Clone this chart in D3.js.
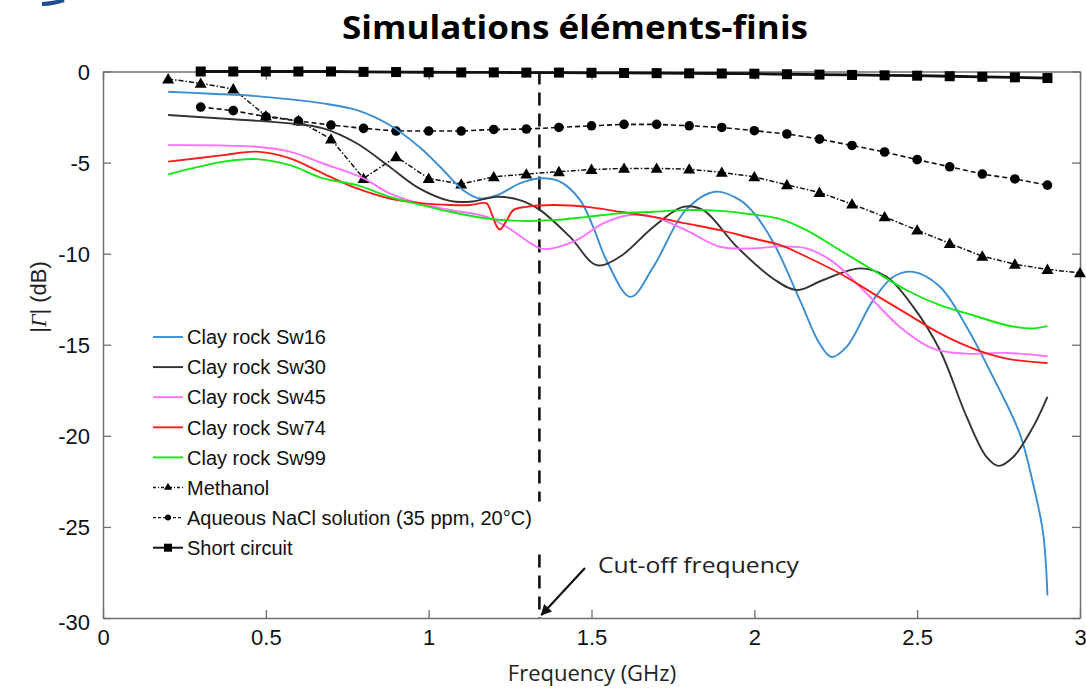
<!DOCTYPE html>
<html>
<head>
<meta charset="utf-8">
<script src="https://cdn.jsdelivr.net/npm/d3@7"></script>
<style>
  html, body { margin: 0; padding: 0; background: #fff; }
  svg { display: block; }
</style>
</head>
<body>
<svg id="chart" width="1086" height="690"></svg>
<script>
// ---- Data: |Γ| (dB) versus frequency (GHz) ----
const xTicks = [0, 0.5, 1, 1.5, 2, 2.5, 3];
const xTickLabels = ["0", "0.5", "1", "1.5", "2", "2.5", "3"];
const yTicks = [0, -5, -10, -15, -20, -25, -30];
const yTickLabels = ["0", "-5", "-10", "-15", "-20", "-25", "-30"];

const sw16Freq = [0.2, 0.33, 0.47, 0.675, 0.78, 0.88, 0.975, 1.035, 1.105, 1.157, 1.21, 1.28, 1.336, 1.403, 1.465, 1.505, 1.546, 1.62, 1.69, 1.79, 1.88, 1.956, 2.0, 2.06, 2.14, 2.2, 2.237, 2.283, 2.365, 2.427, 2.488, 2.57, 2.652, 2.733, 2.815, 2.856, 2.887, 2.9];
const sw16Db = [-1.11, -1.22, -1.35, -1.75, -2.12, -2.94, -4.2, -5.23, -6.5, -6.97, -6.79, -6.14, -5.87, -6.05, -7.06, -8.53, -10.36, -12.37, -10.72, -7.6, -6.6, -7.06, -7.8, -9.44, -12.55, -14.93, -15.67, -15.12, -12.55, -11.27, -11.0, -11.82, -14.02, -16.77, -19.88, -22.63, -25.37, -28.76];

const sw30Freq = [0.2, 0.4, 0.574, 0.676, 0.78, 0.88, 0.963, 1.065, 1.127, 1.21, 1.28, 1.342, 1.434, 1.516, 1.587, 1.69, 1.782, 1.843, 1.946, 2.06, 2.13, 2.21, 2.324, 2.406, 2.488, 2.57, 2.652, 2.713, 2.749, 2.795, 2.856, 2.9];
const sw30Db = [-2.39, -2.62, -2.85, -3.12, -3.95, -5.23, -6.33, -7.1, -7.15, -6.88, -7.06, -7.61, -9.08, -10.63, -10.17, -8.53, -7.43, -7.61, -9.62, -11.4, -12.0, -11.46, -10.81, -11.27, -12.92, -15.3, -18.96, -21.16, -21.65, -21.16, -19.51, -17.86];

const sw45Freq = [0.2, 0.47, 0.574, 0.676, 0.8, 0.88, 0.983, 1.065, 1.178, 1.24, 1.342, 1.38, 1.454, 1.536, 1.618, 1.69, 1.79, 1.894, 1.997, 2.08, 2.16, 2.242, 2.345, 2.447, 2.549, 2.652, 2.775, 2.9];
const sw45Db = [-4.04, -4.13, -4.4, -5.05, -5.87, -6.69, -7.3, -7.6, -7.98, -8.53, -9.71, -9.71, -9.26, -8.34, -7.88, -7.98, -8.71, -9.62, -9.71, -9.6, -9.71, -10.45, -12.19, -14.02, -15.21, -15.49, -15.45, -15.63];

const sw74Freq = [0.2, 0.37, 0.472, 0.574, 0.676, 0.78, 0.88, 0.983, 1.065, 1.127, 1.178, 1.193, 1.21, 1.219, 1.24, 1.26, 1.3, 1.383, 1.485, 1.587, 1.69, 1.79, 1.894, 1.997, 2.08, 2.16, 2.263, 2.365, 2.468, 2.57, 2.672, 2.775, 2.9];
const sw74Db = [-4.95, -4.59, -4.4, -4.77, -5.6, -6.42, -6.97, -7.24, -7.33, -7.33, -7.24, -7.79, -8.53, -8.67, -8.16, -7.61, -7.43, -7.33, -7.43, -7.7, -7.98, -8.34, -8.71, -9.17, -9.53, -10.17, -11.09, -12.19, -13.29, -14.38, -15.21, -15.76, -16.0];

const sw99Freq = [0.2, 0.37, 0.472, 0.574, 0.676, 0.78, 0.88, 0.983, 1.065, 1.178, 1.28, 1.383, 1.485, 1.587, 1.69, 1.79, 1.894, 1.997, 2.08, 2.16, 2.263, 2.365, 2.468, 2.57, 2.672, 2.775, 2.85, 2.9];
const sw99Db = [-5.65, -4.95, -4.81, -5.14, -5.87, -6.24, -6.88, -7.35, -7.7, -8.07, -8.2, -8.16, -7.98, -7.79, -7.7, -7.61, -7.65, -7.85, -8.1, -8.71, -9.81, -10.91, -12.01, -12.83, -13.38, -13.93, -14.11, -13.98];

const methanolFreq = [0.2, 0.3, 0.4, 0.5, 0.6, 0.7, 0.8, 0.9, 1.0, 1.1, 1.2, 1.3, 1.4, 1.5, 1.6, 1.7, 1.8, 1.9, 2.0, 2.1, 2.2, 2.3, 2.4, 2.5, 2.6, 2.7, 2.8, 2.9, 3.0];
const methanolDb = [-0.41, -0.65, -0.96, -2.44, -2.7, -3.71, -5.87, -4.68, -5.87, -6.18, -5.78, -5.63, -5.5, -5.38, -5.32, -5.32, -5.36, -5.54, -5.78, -6.22, -6.64, -7.28, -7.98, -8.71, -9.44, -10.14, -10.58, -10.87, -11.05];

const naclFreq = [0.3, 0.4, 0.5, 0.6, 0.7, 0.8, 0.9, 1.0, 1.1, 1.2, 1.3, 1.4, 1.5, 1.6, 1.7, 1.8, 1.9, 2.0, 2.1, 2.2, 2.3, 2.4, 2.5, 2.6, 2.7, 2.8, 2.9];
const naclDb = [-1.95, -2.15, -2.48, -2.72, -2.94, -3.12, -3.27, -3.27, -3.27, -3.18, -3.16, -3.07, -2.98, -2.9, -2.9, -2.98, -3.07, -3.25, -3.43, -3.71, -4.06, -4.42, -4.84, -5.23, -5.63, -5.9, -6.24];

const shortFreq = naclFreq;
const shortDb = [0, 0, 0, 0, 0, -0.02, -0.03, -0.04, -0.05, -0.05, -0.06, -0.06, -0.07, -0.08, -0.09, -0.1, -0.11, -0.12, -0.15, -0.17, -0.19, -0.21, -0.23, -0.26, -0.29, -0.32, -0.36];

const cutoffFreq = 1.34;

const legendLabels = ["Clay rock Sw16", "Clay rock Sw30", "Clay rock Sw45", "Clay rock Sw74", "Clay rock Sw99",
  "Methanol", "Aqueous NaCl solution (35 ppm, 20°C)", "Short circuit"];

// ---- Layout ----
const svg = d3.select("#chart");
const x = d3.scaleLinear().domain([0, 3]).range([103, 1080]);
const y = d3.scaleLinear().domain([-30, 0]).range([618, 71.5]);
const frameColor = "#6f6f6f";
const tickFont = "'Liberation Sans', Arial, sans-serif";
const calibriLike = "'Open Sans', 'Noto Sans', sans-serif";

// small decorative corner stroke
svg.append("path").attr("d", "M42,4 Q54,3.5 64,0").attr("fill", "none")
  .attr("stroke", "#1f4f8f").attr("stroke-width", 4);

// Title
svg.append("text").attr("x", 575).attr("y", 39).attr("text-anchor", "middle")
  .attr("font-family", calibriLike).attr("font-weight", 700).attr("font-size", 32)
  .attr("textLength", 466).attr("lengthAdjust", "spacingAndGlyphs")
  .text("Simulations éléments-finis");

// Axes with inward ticks, MATLAB-style box
const gx = svg.append("g").attr("transform", `translate(0,${y(-30)})`)
  .call(d3.axisBottom(x).tickValues(xTicks).tickSizeInner(-8).tickSizeOuter(0).tickPadding(11)
    .tickFormat((d, i) => xTickLabels[i]));
const gxTop = svg.append("g").attr("transform", `translate(0,${y(0)})`)
  .call(d3.axisTop(x).tickValues(xTicks).tickSizeInner(-8).tickSizeOuter(0).tickFormat(""));
const gy = svg.append("g").attr("transform", `translate(${x(0)},0)`)
  .call(d3.axisLeft(y).tickValues(yTicks).tickSizeInner(-8).tickSizeOuter(0).tickPadding(13)
    .tickFormat((d, i) => yTickLabels[i]));
const gyRight = svg.append("g").attr("transform", `translate(${x(3)},0)`)
  .call(d3.axisRight(y).tickValues(yTicks).tickSizeInner(-8).tickSizeOuter(0).tickFormat(""));

[gx, gxTop, gy, gyRight].forEach(g => {
  g.select(".domain").attr("stroke", frameColor).attr("stroke-width", 1.5);
  g.selectAll(".tick line").attr("stroke", frameColor).attr("stroke-width", 1.3);
  g.selectAll(".tick text").attr("font-family", tickFont).attr("font-size", 22).attr("fill", "#111");
});
gy.selectAll(".tick text").attr("dy", "0.36em");
gy.selectAll(".tick").filter(d => d === -30).select("text").attr("dy", "0.5em");

// Axis titles
svg.append("text").attr("x", 592).attr("y", 681).attr("text-anchor", "middle")
  .attr("font-family", calibriLike).attr("font-size", 22).attr("fill", "#222")
  .text("Frequency (GHz)");
const yTitle = svg.append("text").attr("transform", "translate(46,297) rotate(-90)")
  .attr("text-anchor", "middle").attr("font-family", tickFont).attr("font-size", 22).attr("fill", "#222");
yTitle.append("tspan").text("|");
yTitle.append("tspan").attr("font-family", "'Liberation Serif', serif").attr("font-style", "italic").text("Γ");
yTitle.append("tspan").text("| (dB)");

// ---- Curves ----
const plot = svg.append("g");
const pairs = (f, v) => f.map((d, i) => [d, v[i]]);
const smooth = d3.line().x(d => x(d[0])).y(d => y(d[1])).curve(d3.curveCatmullRom.alpha(0.5));
const straight = d3.line().x(d => x(d[0])).y(d => y(d[1]));

const clay = [
  { f: sw16Freq, v: sw16Db, color: "#3a8ed2" },
  { f: sw30Freq, v: sw30Db, color: "#333333" },
  { f: sw45Freq, v: sw45Db, color: "#ff70ff" },
  { f: sw74Freq, v: sw74Db, color: "#ff1a1a" },
  { f: sw99Freq, v: sw99Db, color: "#12e812" }
];

// cut-off marker line (drawn under the legend text box)
plot.append("line").attr("x1", x(cutoffFreq)).attr("x2", x(cutoffFreq))
  .attr("y1", y(0)).attr("y2", y(-30))
  .attr("stroke", "#111").attr("stroke-width", 2.6).attr("stroke-dasharray", "13,8");

// Short circuit
plot.append("path").attr("d", straight(pairs(shortFreq, shortDb)))
  .attr("fill", "none").attr("stroke", "#111").attr("stroke-width", 2.8);
plot.selectAll(".sq").data(pairs(shortFreq, shortDb)).join("rect")
  .attr("x", d => x(d[0]) - 5).attr("y", d => y(d[1]) - 5).attr("width", 10).attr("height", 10)
  .attr("fill", "#000");

// NaCl solution
plot.append("path").attr("d", straight(pairs(naclFreq, naclDb)))
  .attr("fill", "none").attr("stroke", "#111").attr("stroke-width", 1.6).attr("stroke-dasharray", "5,3");
plot.selectAll(".dot").data(pairs(naclFreq, naclDb)).join("circle")
  .attr("cx", d => x(d[0])).attr("cy", d => y(d[1])).attr("r", 4.8).attr("fill", "#000");

// Methanol
plot.append("path").attr("d", straight(pairs(methanolFreq, methanolDb)))
  .attr("fill", "none").attr("stroke", "#111").attr("stroke-width", 1.5).attr("stroke-dasharray", "5,2,1.5,2");
const tri = d3.symbol().type(d3.symbolTriangle).size(62);
plot.selectAll(".tri").data(pairs(methanolFreq, methanolDb)).join("path")
  .attr("d", tri).attr("transform", d => `translate(${x(d[0])},${y(d[1]) + 1})`).attr("fill", "#000");

// Clay rock simulations
clay.forEach(s => {
  plot.append("path").attr("d", smooth(pairs(s.f, s.v)))
    .attr("fill", "none").attr("stroke", s.color).attr("stroke-width", 1.9);
});

// ---- Legend ----
const legend = svg.append("g");
const rowY = i => 337 + i * 30.1;
// white box behind the long NaCl entry
legend.append("rect").attr("x", 186).attr("y", rowY(6) - 16).attr("width", 372).attr("height", 48).attr("fill", "#fff");
legendLabels.forEach((lab, i) => {
  const yy = rowY(i);
  const ln = legend.append("line").attr("x1", 153).attr("x2", 183).attr("y1", yy).attr("y2", yy);
  if (i < 5) {
    ln.attr("stroke", clay[i].color).attr("stroke-width", 1.9);
  } else if (i === 5) {
    ln.attr("stroke", "#111").attr("stroke-width", 1.3).attr("stroke-dasharray", "3,2,1,2");
    legend.append("path").attr("d", d3.symbol().type(d3.symbolTriangle).size(28)).attr("transform", `translate(168,${yy})`);
  } else if (i === 6) {
    ln.attr("stroke", "#111").attr("stroke-width", 1.3).attr("stroke-dasharray", "3,2");
    legend.append("circle").attr("cx", 168).attr("cy", yy).attr("r", 3);
  } else {
    ln.attr("stroke", "#111").attr("stroke-width", 2);
    legend.append("rect").attr("x", 164).attr("y", yy - 4).attr("width", 8).attr("height", 8);
  }
  legend.append("text").attr("x", 187).attr("y", yy).attr("dy", "0.36em")
    .attr("font-family", tickFont).attr("font-size", 20).attr("fill", "#111").text(lab);
});

// ---- Cut-off annotation ----
svg.append("defs").append("marker").attr("id", "arrowHead").attr("viewBox", "0 0 10 10")
  .attr("refX", 9).attr("refY", 5).attr("markerWidth", 5).attr("markerHeight", 5).attr("orient", "auto")
  .append("path").attr("d", "M0,0 L10,5 L0,10 z").attr("fill", "#111");
svg.append("line").attr("x1", 585).attr("y1", 568).attr("x2", x(cutoffFreq) + 2).attr("y2", 615)
  .attr("stroke", "#111").attr("stroke-width", 2.2).attr("marker-end", "url(#arrowHead)");
svg.append("text").attr("x", 598).attr("y", 573).attr("font-family", calibriLike).attr("font-size", 22)
  .attr("fill", "#222").attr("textLength", 201).attr("lengthAdjust", "spacingAndGlyphs").text("Cut-off frequency");
</script>
</body>
</html>
